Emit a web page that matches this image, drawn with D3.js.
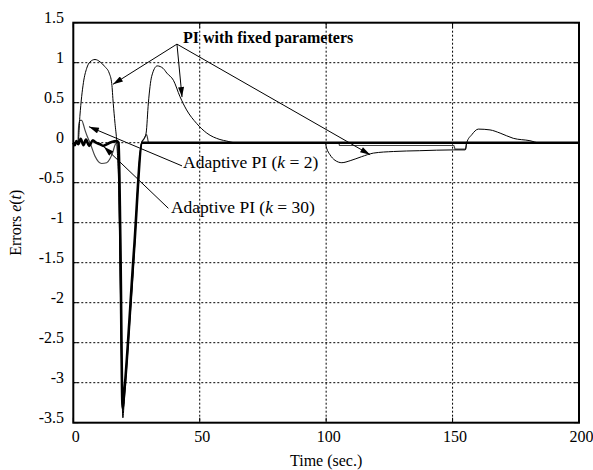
<!DOCTYPE html>
<html><head><meta charset="utf-8">
<script src="https://cdn.jsdelivr.net/npm/d3@7"></script>
<style>body{margin:0;background:#fff}svg{display:block}</style>
</head><body><svg id="c" width="593" height="470"></svg>
<script>
// ---- data ----
const xTicks = [0, 50, 100, 150, 200];
const yTicks = [1.5, 1, 0.5, 0, -0.5, -1, -1.5, -2, -2.5, -3, -3.5];
const yTickLabels = ["1.5", "1", "0.5", "0", "-0.5", "-1", "-1.5", "-2", "-2.5", "-3", "-3.5"];

// PI with fixed parameters
const fixedT = [0, 1.9, 2.6, 4.0, 5.3, 6.6, 8.6, 10.6, 12.5, 14.2, 15.2, 15.8, 16.5, 17.2, 18.0, 19.0, 19.6, 20.2, 23.5, 27.0, 28.0, 28.8, 29.7, 31.0, 33.2, 35.5, 37.0, 39.6, 42.2, 44.8, 48.8, 52.8, 58.0, 60.7, 64.0, 99.6, 100.2, 101.5, 103.5, 106.2, 109.5, 114.0, 118.7, 126.6, 137.0, 150.3, 155.0, 155.6, 157.6, 160.2, 164.8, 168.8, 174.0, 180.6, 184.0, 200];
const fixedE = [0, 0, 0.33, 0.75, 0.93, 1.01, 1.04, 1.01, 0.95, 0.87, 0.74, 0.49, 0.24, 0.0, -0.6, -2.6, -3.44, -3.2, -1.7, 0.0, 0.05, 0.12, 0.5, 0.83, 0.96, 0.93, 0.87, 0.78, 0.575, 0.41, 0.24, 0.12, 0.04, 0.02, 0.0, 0.0, -0.07, -0.15, -0.22, -0.25, -0.225, -0.175, -0.13, -0.11, -0.10, -0.09, -0.09, 0.0, 0.10, 0.17, 0.16, 0.12, 0.055, 0.025, 0.0, 0.0];

// Adaptive PI (k = 2)
const k2T = [0, 1.8, 2.1, 2.6, 3.3, 4.6, 5.5, 6.6, 8.6, 10.0, 11.2, 13.2, 14.5, 15.5, 16.5, 17.3, 18.0, 19.0, 19.6, 20.3, 24.0, 27.0, 28.0, 29.0, 29.8, 105.0, 105.3, 150.5, 151.0, 155.2, 155.6, 200];
const k2E = [0, 0, 0.2, 0.28, 0.28, 0.16, 0.08, 0.0, -0.17, -0.24, -0.26, -0.25, -0.2, -0.13, -0.03, 0.0, -0.5, -2.5, -3.38, -3.1, -1.4, 0.0, 0.05, 0.1, 0.0, 0.0, -0.035, -0.035, -0.08, -0.08, 0.0, 0.0];

// Adaptive PI (k = 30)
const k30T = [0, 0.6, 1.2, 2.0, 2.9, 4.0, 5.0, 6.3, 7.7, 9.0, 10.6, 11.9, 13.2, 15.2, 17.1, 17.9, 18.6, 19.5, 20.2, 24.0, 27.3, 200];
const k30E = [0, -0.03, 0.02, -0.02, 0.05, -0.03, 0.04, -0.04, 0.03, 0.0, -0.02, -0.04, -0.02, 0.01, 0.02, 0.0, -1.2, -3.32, -3.1, -1.35, 0.0, 0.0];

// annotations (data coordinates)
const fixedLabel = {t: 43.4, e: 1.246, text: "PI with fixed parameters"};
const fixedArrowFrom = {t: 41.0, e: 1.232};
const fixedArrowTo = [{t: 15.7, e: 0.73}, {t: 43.0, e: 0.57}, {t: 117.4, e: -0.15}];
const k2Label = {t: 43.4, e: -0.32};
const k2Arrow = {from: {t: 43.0, e: -0.29}, to: {t: 6.2, e: 0.2}};
const k30Label = {t: 38.6, e: -0.88};
const k30Arrow = {from: {t: 37.6, e: -0.82}, to: {t: 12.1, e: -0.05}};

// ---- drawing ----
const svg = d3.select("#c");
const L = 73.3, R = 579, T = 22.7, B = 422.7;
const x = d3.scaleLinear().domain([0, 200]).range([L, R]);
const y = d3.scaleLinear().domain([-3.5, 1.5]).range([B, T]);
const font = "'Liberation Serif','Times New Roman',serif";

const defs = svg.append("defs");
defs.append("marker").attr("id", "ah").attr("viewBox", "0 0 10 6")
  .attr("refX", 10).attr("refY", 3).attr("markerWidth", 11).attr("markerHeight", 6)
  .attr("markerUnits", "userSpaceOnUse").attr("orient", "auto")
  .append("path").attr("d", "M0,0 L10,3 L0,6 Z").attr("fill", "#000");

// grid
svg.append("g").selectAll("line").data(yTicks.filter(v => v > -3.5 && v < 1.5)).join("line")
  .attr("x1", L).attr("x2", R).attr("y1", d => y(d)).attr("y2", d => y(d))
  .attr("stroke", "#000").attr("stroke-width", 1).attr("stroke-dasharray", "2,2");
svg.append("g").selectAll("line").data(xTicks.filter(v => v > 0 && v < 200)).join("line")
  .attr("y1", T).attr("y2", B).attr("x1", d => x(d)).attr("x2", d => x(d))
  .attr("stroke", "#000").attr("stroke-width", 1).attr("stroke-dasharray", "2,2");

// inward ticks
const tk = svg.append("g").attr("stroke", "#000").attr("stroke-width", 1);
yTicks.forEach(v => {
  tk.append("line").attr("x1", L).attr("x2", L + 5).attr("y1", y(v)).attr("y2", y(v));
  tk.append("line").attr("x1", R).attr("x2", R - 5).attr("y1", y(v)).attr("y2", y(v));
});
xTicks.forEach(v => {
  tk.append("line").attr("x1", x(v)).attr("x2", x(v)).attr("y1", B).attr("y2", B - 5);
  tk.append("line").attr("x1", x(v)).attr("x2", x(v)).attr("y1", T).attr("y2", T + 5);
});

// curves
const line = d3.line().x(d => x(d[0])).y(d => y(d[1])).curve(d3.curveMonotoneX);
const zip = (a, b) => a.map((v, i) => [v, b[i]]);
svg.append("path").datum(zip(k2T, k2E)).attr("d", line)
  .attr("fill", "none").attr("stroke", "#444").attr("stroke-width", 1.2);
svg.append("path").datum(zip(fixedT, fixedE)).attr("d", line)
  .attr("fill", "none").attr("stroke", "#000").attr("stroke-width", 1);
svg.append("path").datum(zip(k30T, k30E)).attr("d", line)
  .attr("fill", "none").attr("stroke", "#000").attr("stroke-width", 2.6);

// frame
svg.append("rect").attr("x", L).attr("y", T).attr("width", R - L).attr("height", B - T)
  .attr("fill", "none").attr("stroke", "#000").attr("stroke-width", 2);

// tick labels
svg.append("g").selectAll("text").data(yTicks).join("text")
  .attr("x", 64).attr("y", d => y(d)).attr("text-anchor", "end")
  .attr("font-family", font).attr("font-size", 16).text((d, i) => yTickLabels[i]);
svg.append("g").selectAll("text").data(xTicks).join("text")
  .attr("x", d => x(d) + 2.5).attr("y", 442).attr("text-anchor", "middle")
  .attr("font-family", font).attr("font-size", 16).text(d => d);

// axis titles
svg.append("text").attr("x", (L + R) / 2).attr("y", 466).attr("text-anchor", "middle")
  .attr("font-family", font).attr("font-size", 16).text("Time (sec.)");
const yt = svg.append("text").attr("transform", `translate(21,${(T + B) / 2}) rotate(-90)`)
  .attr("text-anchor", "middle").attr("font-family", font).attr("font-size", 16);
yt.append("tspan").text("Errors ");
yt.append("tspan").attr("font-style", "italic").text("e");
yt.append("tspan").text("(");
yt.append("tspan").attr("font-style", "italic").text("t");
yt.append("tspan").text(")");

// annotations
const ann = svg.append("g").attr("stroke", "#000").attr("stroke-width", 1);
fixedArrowTo.forEach(p => {
  ann.append("line").attr("x1", x(fixedArrowFrom.t)).attr("y1", y(fixedArrowFrom.e))
    .attr("x2", x(p.t)).attr("y2", y(p.e)).attr("marker-end", "url(#ah)");
});
[k2Arrow, k30Arrow].forEach(a => {
  ann.append("line").attr("x1", x(a.from.t)).attr("y1", y(a.from.e))
    .attr("x2", x(a.to.t)).attr("y2", y(a.to.e)).attr("marker-end", "url(#ah)");
});
svg.append("text").attr("x", x(fixedLabel.t)).attr("y", y(fixedLabel.e))
  .attr("font-family", font).attr("font-size", 16).attr("font-weight", "bold").text(fixedLabel.text);

function adaptiveLabel(pos, kval) {
  const t = svg.append("text").attr("x", x(pos.t)).attr("y", y(pos.e))
    .attr("font-family", font).attr("font-size", 17.5);
  t.append("tspan").text("Adaptive PI (");
  t.append("tspan").attr("font-style", "italic").text("k");
  t.append("tspan").text(" = " + kval + ")");
}
adaptiveLabel(k2Label, "2");
adaptiveLabel(k30Label, "30");
</script></body></html>
